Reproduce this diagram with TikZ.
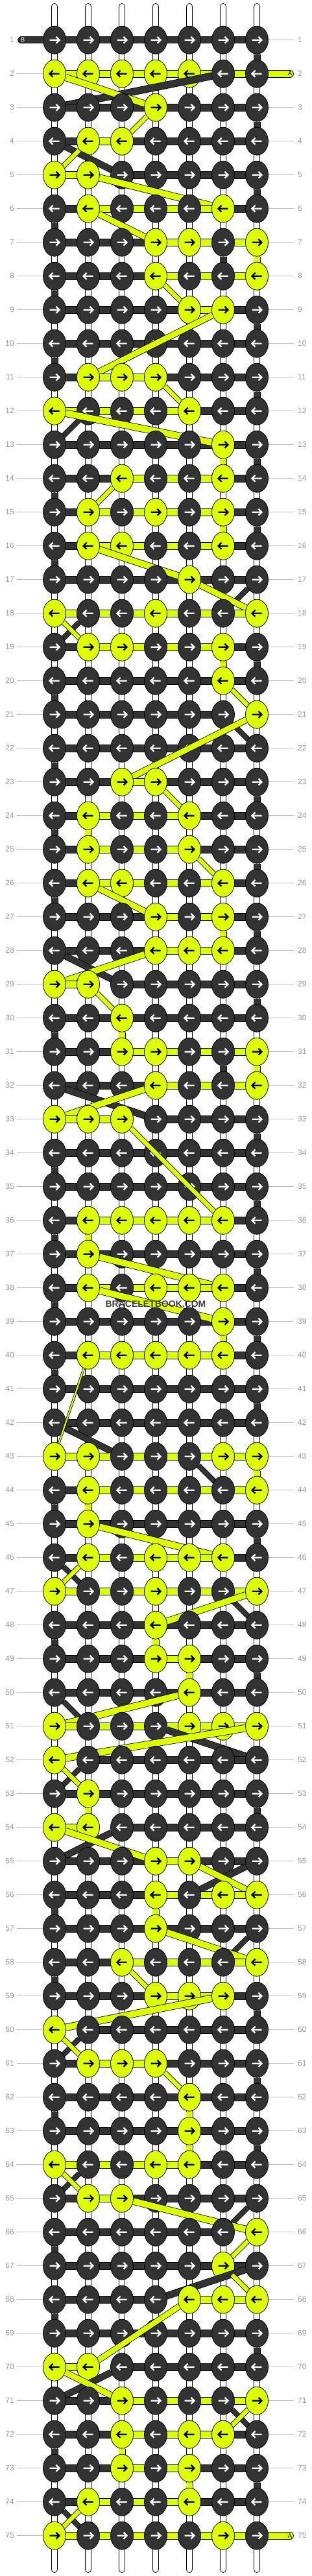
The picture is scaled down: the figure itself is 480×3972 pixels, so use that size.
\documentclass[tikz,border=0pt]{standalone}
\usepackage{fontspec}
\setmainfont{Liberation Sans}
\usetikzlibrary{shapes.geometric}
\definecolor{dgrey}{RGB}{51,51,51}
\definecolor{lime}{RGB}{221,255,0}
\definecolor{lgrey}{RGB}{190,190,190}
\definecolor{mgrey}{RGB}{150,150,150}
\definecolor{wgrey}{RGB}{64,64,64}

% one knotting string per row: come in from the last knot, run across
\newcommand\runstrand[2]{%
  \edef\sLo{\csname #1Lo\endcsname}%
  \edef\sHi{\csname #1Hi\endcsname}%
  \ifnum\sLo>0
    \ifodd\r\relax \edef\sIn{\sLo}\edef\sOut{\sHi}%
    \else \edef\sIn{\sHi}\edef\sOut{\sLo}\fi
    \edef\sR{\csname #1R\endcsname}%
    \edef\sC{\csname #1C\endcsname}%
    \ifnum\sR=0
      \draw[strand,double=#2,line cap=round] (#1-start) -- (p-\r-\sIn);
    \else
      \ifnum\sC=\sIn\relax \def\sWid{9.4}%
      \else \pgfmathsetmacro\sWid{11.6*abs(\sIn-\sC)/sqrt((\sIn-\sC)^2+(\r-\sR)^2)-1.6}\fi
      \draw[strand,double=#2,double distance=\sWid pt] (k-\sR-\sC) -- (p-\r-\sIn);
    \fi
    \ifnum\sLo<\sHi\relax \draw[strand,double=#2] (p-\r-\sLo) -- (p-\r-\sHi);\fi
    \expandafter\xdef\csname #1R\endcsname{\r}%
    \expandafter\xdef\csname #1C\endcsname{\sOut}%
  \fi}

\begin{document}
\begin{tikzpicture}[x=1pt,y=-1pt,
    strand/.style={draw=black,line width=0.8pt,double distance=10pt},
    base/.style={draw=black,line width=0.8pt,double=white,double distance=8.4pt,line cap=round},
    arw/.style={line width=2.2pt,line join=miter},
    rowline/.style={lgrey,line width=1pt},
    rowno/.style={text=mgrey,font=\fontsize{12}{14}\selectfont,inner sep=0pt}]
  \tikzstyle{knot}=[ellipse,draw=black,line width=0.8pt,minimum width=35pt,minimum height=43pt,inner sep=0pt]
  \useasboundingbox (0,0) rectangle (480,3972);
  \fill[white] (0,0) rectangle (480,3972);

  % grid
  \foreach \r in {1,...,75}
    \foreach \c in {1,...,7}
      \coordinate (p-\r-\c) at ({32+52*\c},{9.7+52*\r});

  % row numbers
  \foreach \r in {1,...,75}{
    \node[rowno,anchor=east] (ln-\r) at (22,{9.7+52*\r}) {\r};
    \node[rowno,anchor=west] (rn-\r) at (459,{9.7+52*\r}) {\r};
    \draw[rowline,shorten <=4pt] (ln-\r.east) -- (p-\r-1);
    \draw[rowline,shorten >=6pt] (p-\r-7) -- (rn-\r.west);
  }

  % base strings
  \foreach \c in {1,...,7}{
    \coordinate (top-\c) at ({32+52*\c},10);
    \coordinate (bot-\c) at ({32+52*\c},3962);
    \draw[base] (top-\c) -- (bot-\c);
  }

  \coordinate (dk-start) at (33,61.7);
  \coordinate (yw-start) at (447,113.7);
  \coordinate (yw-end) at (447,3909.7);
  \xdef\dkR{0}\xdef\dkC{0}\xdef\ywR{0}\xdef\ywC{0}

  % 1 = lime knot, 0 = dark knot
  \foreach \r/\pat in {
     1/{0,0,0,0,0,0,0},  2/{1,1,1,1,1,0,0},  3/{0,0,0,1,0,0,0},  4/{0,1,1,0,0,0,0},
     5/{1,1,0,0,0,0,0},  6/{0,1,0,0,0,1,0},  7/{0,0,0,1,1,0,1},  8/{0,0,0,1,0,0,1},
     9/{0,0,0,0,1,1,0}, 10/{0,0,0,0,0,0,0}, 11/{0,1,1,1,0,0,0}, 12/{1,0,0,0,1,0,0},
    13/{0,0,0,0,0,1,0}, 14/{0,0,1,0,0,1,0}, 15/{0,1,0,1,0,1,0}, 16/{0,1,1,0,0,1,0},
    17/{0,0,0,0,1,0,0}, 18/{1,0,0,1,0,0,1}, 19/{0,1,1,0,0,1,0}, 20/{0,0,0,0,0,1,0},
    21/{0,0,0,0,0,0,1}, 22/{0,0,0,0,0,0,0}, 23/{0,0,1,1,0,0,0}, 24/{0,1,0,0,1,0,0},
    25/{0,1,0,0,1,0,0}, 26/{0,1,1,0,0,1,0}, 27/{0,0,0,1,0,1,0}, 28/{0,0,0,1,1,1,0},
    29/{1,1,0,0,0,0,0}, 30/{0,0,1,0,0,0,0}, 31/{0,0,1,1,0,0,1}, 32/{0,0,0,1,0,0,1},
    33/{1,1,1,0,0,0,0}, 34/{0,0,0,0,0,0,0}, 35/{0,0,0,0,0,0,0}, 36/{0,1,1,1,1,1,0},
    37/{0,1,0,0,0,0,0}, 38/{0,1,0,1,1,1,0}, 39/{0,0,0,0,0,1,0}, 40/{0,1,1,1,1,1,0},
    41/{0,0,0,0,0,0,0}, 42/{0,0,0,0,0,0,0}, 43/{1,1,0,0,0,1,1}, 44/{0,1,0,0,0,0,1},
    45/{0,1,0,0,0,0,0}, 46/{0,1,0,1,1,1,0}, 47/{1,0,0,1,0,0,1}, 48/{0,0,0,1,0,0,0},
    49/{0,0,0,1,1,0,0}, 50/{0,0,0,0,1,0,0}, 51/{1,0,0,0,1,1,1}, 52/{1,0,0,0,0,0,0},
    53/{0,1,0,0,0,0,0}, 54/{1,1,0,0,0,0,0}, 55/{0,0,0,1,1,0,0}, 56/{0,0,0,1,0,1,1},
    57/{0,0,0,1,0,0,0}, 58/{0,0,1,0,0,0,1}, 59/{0,0,0,1,1,1,0}, 60/{1,0,0,0,0,0,0},
    61/{0,1,1,1,0,0,0}, 62/{0,0,0,0,1,0,0}, 63/{0,0,0,0,1,0,0}, 64/{1,0,0,1,1,0,0},
    65/{0,1,1,0,0,0,0}, 66/{0,0,0,0,0,0,1}, 67/{0,0,0,0,0,1,0}, 68/{0,0,0,0,1,1,1},
    69/{0,0,0,0,0,0,0}, 70/{1,1,0,0,0,0,0}, 71/{0,0,1,0,0,0,1}, 72/{0,0,1,0,1,1,0},
    73/{0,0,1,0,1,0,0}, 74/{0,1,0,0,1,0,0}, 75/{1,0,0,0,0,1,0}}{
    \xdef\dkLo{0}\xdef\dkHi{0}\xdef\ywLo{0}\xdef\ywHi{0}
    \foreach \v [count=\c] in \pat {
      \ifnum\v=1
        \ifnum\ywLo=0 \xdef\ywLo{\c}\fi
        \xdef\ywHi{\c}
      \else
        \ifnum\dkLo=0 \xdef\dkLo{\c}\fi
        \xdef\dkHi{\c}
      \fi
    }
    \runstrand{dk}{dgrey}
    \runstrand{yw}{lime}
    \ifnum\r=75 \draw[strand,double=lime,line cap=round] (p-\r-\ywC) -- (yw-end);\fi
    \ifodd\r \def\dir{1}\else \def\dir{-1}\fi
    \foreach \v [count=\c] in \pat {
      \ifnum\v=1 \def\kfill{lime}\def\kink{black}\else \def\kfill{dgrey}\def\kink{white}\fi
      \node[knot,fill=\kfill] (k-\r-\c) at (p-\r-\c) {};
      \draw[arw,draw=\kink,shift={(p-\r-\c)},xscale=\dir] (-7.5,0) -- (7.5,0) (2.5,-5) -- (7.5,0) -- (2.5,5);
    }
  }

  % string ends
  \node[text=white,font=\fontsize{9.5}{10}\selectfont] (lab-b) at (35,61.7) {B};
  \node[font=\fontsize{9.5}{10}\selectfont] (lab-a) at (447,113.7) {A};
  \node[font=\fontsize{9.5}{10}\selectfont] (lab-a2) at (447,3909.7) {A};

  \node[text=wgrey,font=\bfseries\fontsize{14}{16}\selectfont] (wm) at (240,2011) {BRACELETBOOK.COM};
\end{tikzpicture}
\end{document}
